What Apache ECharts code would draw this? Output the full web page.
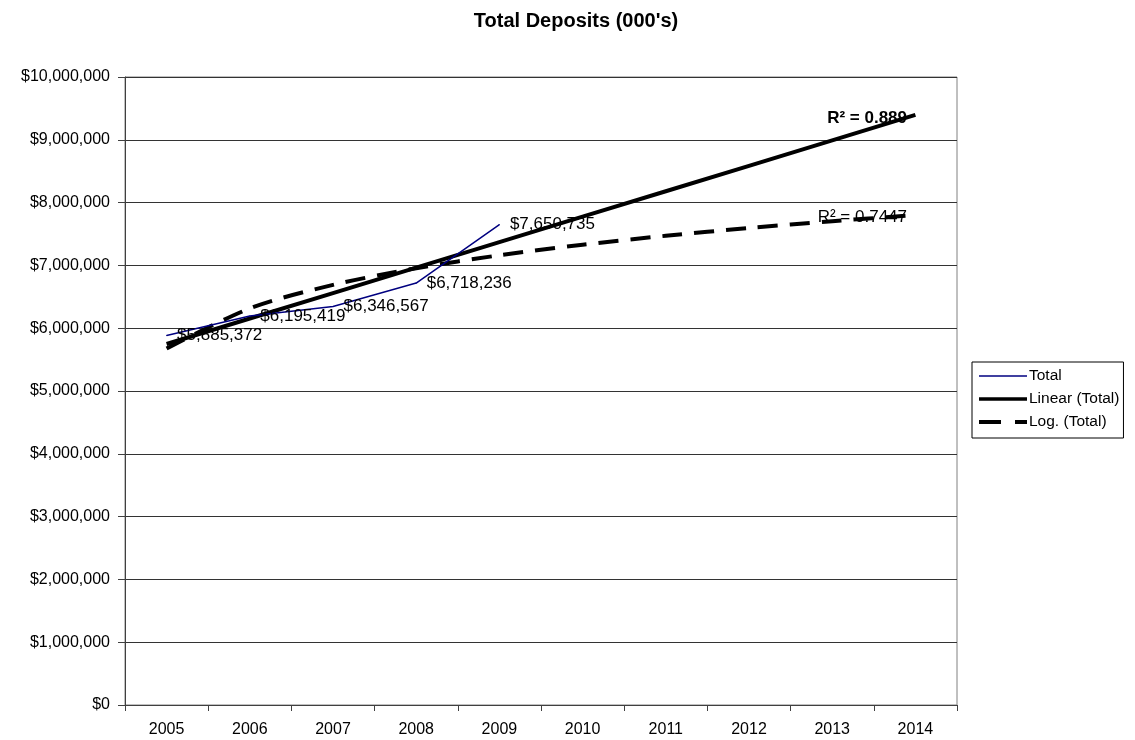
<!DOCTYPE html>
<html>
<head>
<meta charset="utf-8">
<script src="https://cdn.jsdelivr.net/npm/echarts@6/dist/echarts.min.js"></script>
<style>
html,body{margin:0;padding:0;background:#fff;}
#chart{width:1135px;height:740px;}
</style>
</head>
<body>
<div id="chart"></div>
<script>
var titleText = "Total Deposits (000's)";
var years = ['2005','2006','2007','2008','2009','2010','2011','2012','2013','2014'];
var totalValues = [5885372, 6195419, 6346567, 6718236, 7650735];
var linearTrend = [5748557, 6153912, 6559266, 6964620, 7369975, 7775329, 8180683, 8586038, 8991392, 9396746];
var logTrend = [5675476, 6315260, 6689526, 6955084, 7161044, 7329375, 7471626, 7594846, 7703583, 7800861];
var seriesNames = ['Total', 'Linear (Total)', 'Log. (Total)'];
var r2Linear = 'R² = 0.889';
var r2Log = 'R² = 0.7447';
var yMin = 0, yMax = 10000000, yStep = 1000000;

function money(v){
  return '$' + Math.round(v).toString().replace(/\B(?=(\d{3})+(?!\d))/g, ',');
}

var font = 'Liberation Sans, Arial, sans-serif';
var chart = echarts.init(document.getElementById('chart'), null, {renderer:'canvas'});
chart.setOption({
  backgroundColor: '#ffffff',
  animation: false,
  textStyle: {fontFamily: font},
  title: {
    text: titleText,
    left: 571, textAlign: 'center', top: 6,
    textStyle: {fontFamily: font, fontSize: 20, fontWeight: 'bold', color: '#000'}
  },
  grid: {left: 125, right: 178, top: 77, bottom: 35, show: true, borderColor: '#808080', borderWidth: 1, containLabel: false},
  legend: {
    orient: 'vertical', left: 972, top: 362,
    data: [
      {name: seriesNames[0], lineStyle: {width: 1.5, color: '#000080'}},
      {name: seriesNames[1], lineStyle: {width: 3.5, color: '#000'}},
      {name: seriesNames[2], lineStyle: {width: 4, color: '#000', type: [22, 14]}}
    ],
    itemWidth: 48, itemHeight: 14, itemGap: 7,
    padding: [6, 4, 8, 5],
    borderColor: '#000', borderWidth: 1,
    itemStyle: {opacity: 0, borderWidth: 0},
    textStyle: {fontFamily: font, fontSize: 15.5, color: '#000', padding: [0,0,0,-3]}
  },
  xAxis: {
    type: 'category', data: years, boundaryGap: true,
    axisLine: {lineStyle: {color: '#404040', width: 1}},
    axisTick: {show: true, length: 6, lineStyle: {color: '#404040'}},
    axisLabel: {fontFamily: font, fontSize: 16, color: '#000', margin: 17},
    splitLine: {show: false}
  },
  yAxis: {
    type: 'value', min: yMin, max: yMax, interval: yStep,
    axisLine: {show: true, lineStyle: {color: '#404040', width: 1}},
    axisTick: {show: true, length: 7, lineStyle: {color: '#404040'}},
    axisLabel: {fontFamily: font, fontSize: 16, color: '#000', margin: 15, formatter: money},
    splitLine: {show: true, lineStyle: {color: '#333', width: 1}}
  },
  series: [
    {
      name: seriesNames[1], type: 'line', data: linearTrend,
      symbol: 'none', showSymbol: false, z: 3,
      itemStyle: {color: '#000'},
      lineStyle: {color: '#000', width: 4}
    },
    {
      name: seriesNames[2], type: 'line', data: logTrend,
      symbol: 'none', showSymbol: false, smooth: 0.3, z: 3,
      itemStyle: {color: '#000'},
      lineStyle: {color: '#000', width: 4, type: [20, 12]}
    },
    {
      name: seriesNames[0], type: 'line', data: totalValues,
      symbol: 'circle', symbolSize: 1, showSymbol: true, z: 4,
      itemStyle: {color: '#000080'},
      lineStyle: {color: '#000080', width: 1.5},
      label: {show: true, position: 'right', distance: 10, fontFamily: font, fontSize: 17, color: '#000', formatter: function(p){return money(p.value);}}
    }
  ],
  graphic: [
    {type: 'text', x: 907, y: 118, z: 10, style: {text: r2Linear, font: 'bold 17px ' + font, fill: '#000', textAlign: 'right', textVerticalAlign: 'middle'}},
    {type: 'text', x: 907, y: 217, z: 10, style: {text: r2Log, font: '17px ' + font, fill: '#000', textAlign: 'right', textVerticalAlign: 'middle'}}
  ]
});
</script>
</body>
</html>
